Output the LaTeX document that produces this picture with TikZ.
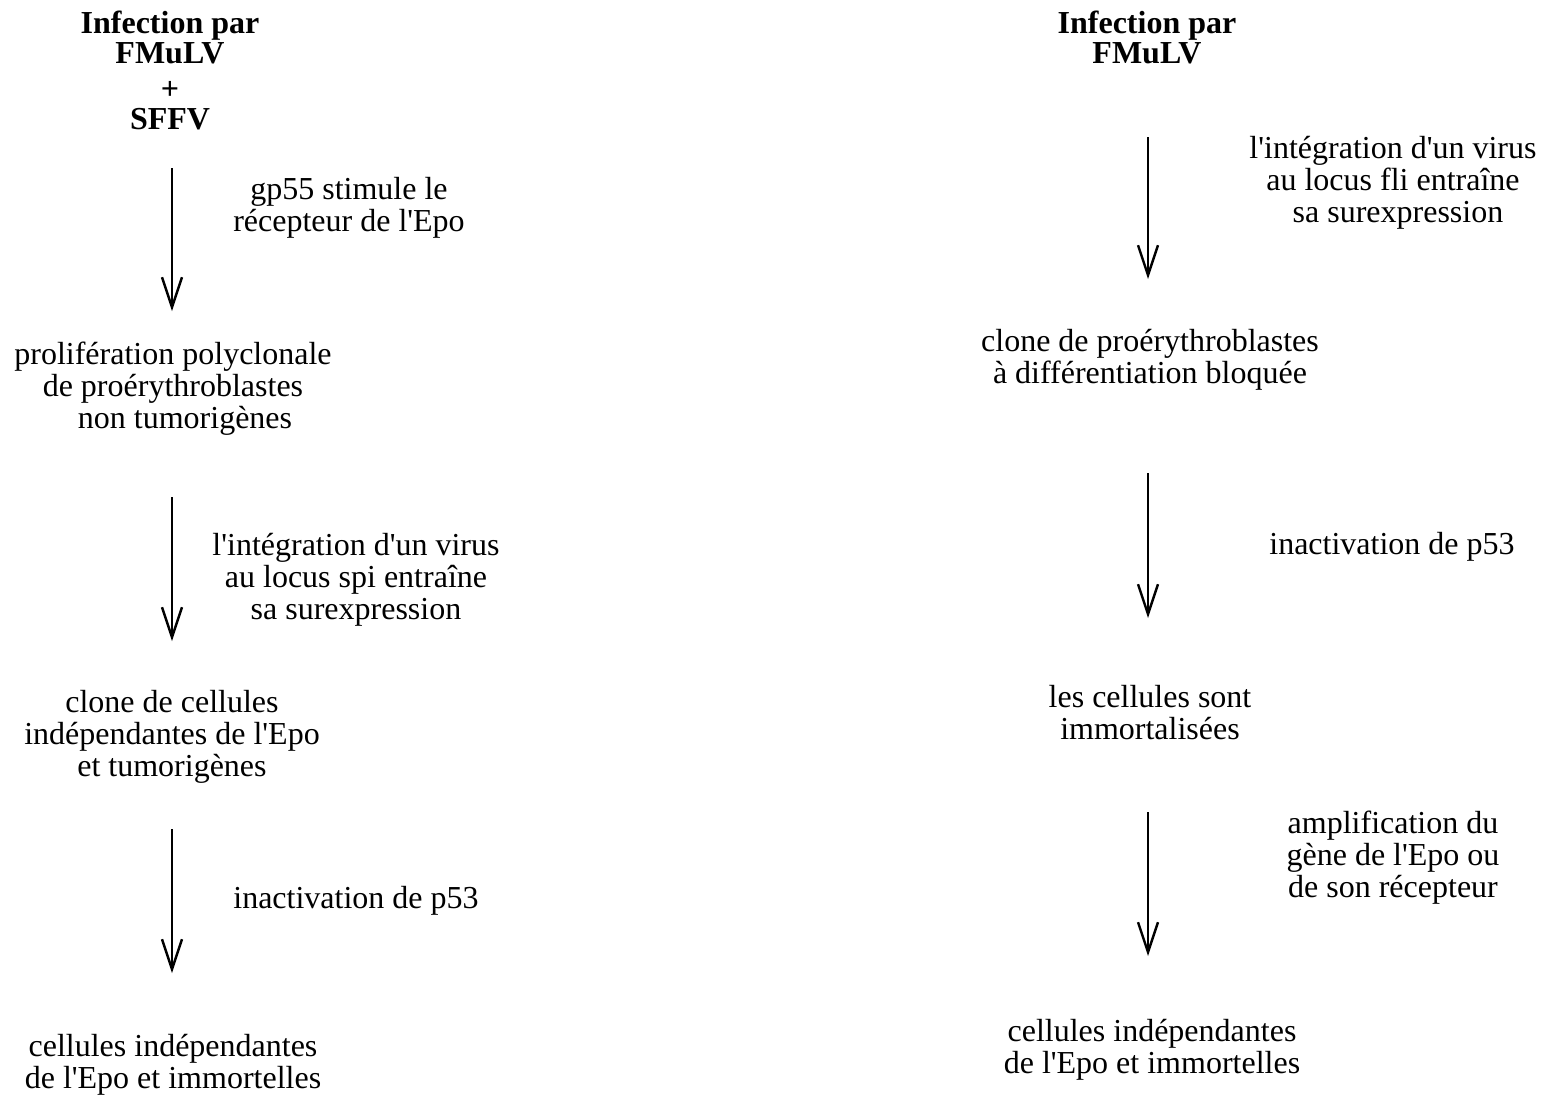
\documentclass[tikz,border=0pt]{standalone}
\usepackage{fontspec}
\setmainfont{Liberation Serif}
\usetikzlibrary{arrows.meta}
\newcommand\apo{\textquotesingle}
\tikzset{
  txt/.style={align=center, inner sep=0pt, font=\fontsize{16}{16}\selectfont},
  head/.style={align=center, inner sep=0pt, font=\fontsize{16}{15}\selectfont\bfseries},
  flow/.style={line width=1pt, -{Straight Barb[length=15pt, width=10pt, line width=1.2pt]}}
}
\begin{document}
\begin{tikzpicture}[x=0.5pt, y=-0.5pt]
\useasboundingbox (0,0) rectangle (1558,1100);

% left column: FMuLV + SFFV
\node[head] (lt) at (170,70) {Infection par\\FMuLV\\[3pt]+\\SFFV};
\node[txt] (l1) at (173,389) {prolifération polyclonale\\de proérythroblastes\\\hspace*{12pt}non tumorigènes};
\node[txt] (l2) at (172,737) {clone de cellules\\indépendantes de l\apo Epo\\et tumorigènes};
\node[txt] (l3) at (173,1065) {cellules indépendantes\\de l\apo Epo et immortelles};

\node[txt] (la1) at (349,208) {gp55 stimule le\\récepteur de l\apo Epo};
\node[txt] (la2) at (356,580) {l\apo intégration d\apo un virus\\au locus spi entraîne\\sa surexpression};
\node[txt] (la3) at (356,901) {inactivation de p53};

\coordinate (l0s) at (172,168); \coordinate (l0e) at (172,311);
\coordinate (l1s) at (172,497); \coordinate (l1e) at (172,641);
\coordinate (l2s) at (172,829); \coordinate (l2e) at (172,973);
\draw[flow] (l0s) -- (l0e);
\draw[flow] (l1s) -- (l1e);
\draw[flow] (l2s) -- (l2e);

% right column: FMuLV alone
\node[head] (rt) at (1147,37) {Infection par\\FMuLV};
\node[txt] (r1) at (1150,360) {clone de proérythroblastes\\à différentiation bloquée};
\node[txt] (r2) at (1150,713) {les cellules sont\\immortalisées};
\node[txt] (r3) at (1152,1050) {cellules indépendantes\\de l\apo Epo et immortelles};

\node[txt] (ra1) at (1393,183) {l\apo intégration d\apo un virus\\au locus fli entraîne\\\hspace*{5pt}sa surexpression};
\node[txt] (ra2) at (1392,547) {inactivation de p53};
\node[txt] (ra3) at (1393,858) {amplification du\\gène de l\apo Epo ou\\de son récepteur};

\coordinate (r0s) at (1148,137); \coordinate (r0e) at (1148,279);
\coordinate (r1s) at (1148,473); \coordinate (r1e) at (1148,618);
\coordinate (r2s) at (1148,812); \coordinate (r2e) at (1148,956);
\draw[flow] (r0s) -- (r0e);
\draw[flow] (r1s) -- (r1e);
\draw[flow] (r2s) -- (r2e);
\end{tikzpicture}
\end{document}
